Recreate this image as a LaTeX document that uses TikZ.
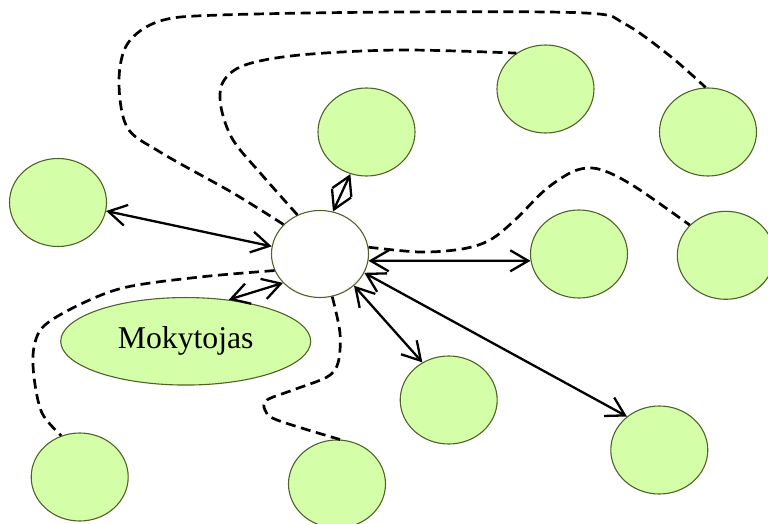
\documentclass[tikz,border=0pt]{standalone}
\usepackage{fontspec}
\setmainfont{Liberation Serif}
\usetikzlibrary{shapes.geometric,arrows.meta}
\definecolor{leaf}{HTML}{D4FFA8}
\definecolor{rim}{HTML}{4F6228}
\begin{document}
\begin{tikzpicture}[x=0.5pt,y=0.5pt,
  bubble/.style={ellipse, draw=rim, line width=0.55pt, fill=leaf, inner sep=0pt,
                 minimum width=48.5pt, minimum height=44pt},
  link/.style={line width=1.15pt,
               {Straight Barb[length=9pt,width=10.5pt]}-{Straight Barb[length=9pt,width=10.5pt]}},
  tie/.style={line width=1.35pt, dash pattern=on 5pt off 2.8pt}]
\useasboundingbox (0,0) rectangle (768,-524);
\clip (0,0) rectangle (768,-524);

% central node and the surrounding bubbles
\node[bubble, fill=white, minimum height=43.5pt] (hub) at (320,-254) {};
\node[bubble] (a) at (366.5,-132) {};
\node[bubble] (b) at (58,-202.5) {};
\node[bubble] (c) at (545.5,-89) {};
\node[bubble] (d) at (708,-132) {};
\node[bubble] (e) at (579,-254) {};
\node[bubble] (f) at (725.8,-255.3) {};
\node[bubble] (g) at (448.7,-400) {};
\node[bubble] (h) at (659.3,-450) {};
\node[bubble] (i) at (79.7,-477) {};
\node[bubble] (j) at (337,-484) {};
\node[bubble, minimum width=125pt, minimum height=43.75pt,
      font=\fontsize{15.85pt}{19pt}\selectfont] (m) at (185.7,-341.3) {Mokytojas};

% dashed indirect links
\draw[tie] plot[smooth, tension=0.55] coordinates {(hub.141) (233,-193) (160,-152) (127,-127)
  (119,-80) (128,-43) (160,-21) (220,-15) (400,-12) (585,-13) (625,-24) (670,-56) (d.93)};
\draw[tie] plot[smooth, tension=0.55] coordinates {(hub.120) (262,-175) (233,-140) (221,-107)
  (223,-82) (245,-65) (300,-55) (400,-50) (c.129)};
\draw[tie] plot[smooth, tension=0.55] coordinates {(hub.8) (420,-252) (462,-249) (490,-240)
  (515,-220) (545,-190) (572,-172) (592,-168) (612,-174) (640,-190) (f.140)};
\draw[tie] plot[smooth, tension=0.55] coordinates {(hub.200) (200,-277) (127,-287) (83,-303)
  (45,-325) (34,-347) (34,-377) (42,-413) (i.114)};
\draw[tie] plot[smooth, tension=0.55] coordinates {(hub.-74) (340,-333) (338,-363) (327,-377)
  (293,-390) (267,-400) (265,-410) (277,-420) (j.86)};

% direct two-way links
\draw[link] (hub.171) -- (b.-10);
\draw[link] (hub.73) -- (a.249);
\draw[link] (hub.218) -- (m.44);
\draw[link] (hub.-8) -- (e.188);
\draw[link] (hub.-43) -- (g.125);
\draw[link] (hub.-23) -- (h.134);
\end{tikzpicture}
\end{document}
